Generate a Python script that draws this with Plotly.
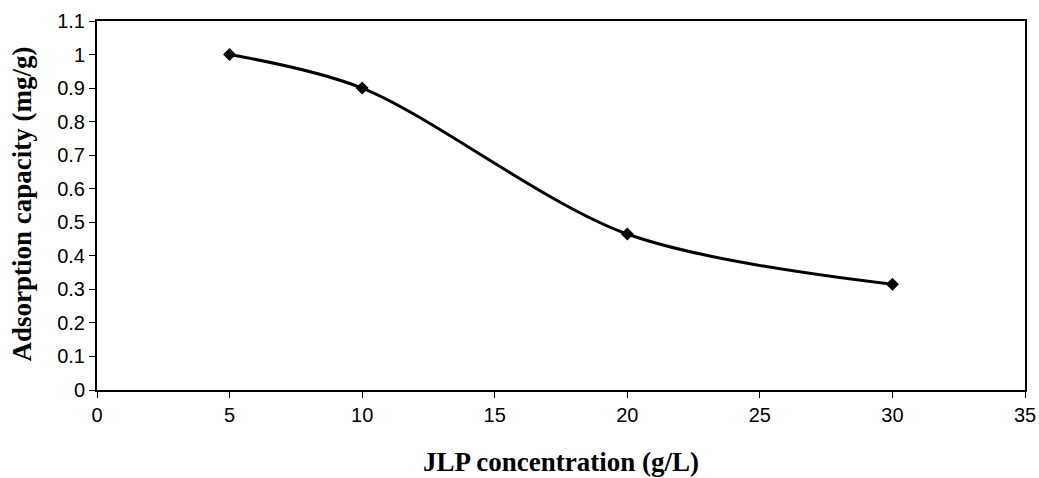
import plotly.graph_objects as go

# JLP concentration (g/L) and adsorption capacity (mg/g)
concentration = [5, 10, 20, 30]
capacity = [1.0, 0.9, 0.465, 0.315]

x_ticks = [0, 5, 10, 15, 20, 25, 30, 35]
y_ticks = [0, 0.1, 0.2, 0.3, 0.4, 0.5, 0.6, 0.7, 0.8, 0.9, 1, 1.1]
y_tick_text = ["0", "0.1", "0.2", "0.3", "0.4", "0.5", "0.6", "0.7", "0.8", "0.9", "1", "1.1"]

fig = go.Figure()
fig.add_trace(go.Scatter(
    x=concentration,
    y=capacity,
    mode="lines+markers",
    line=dict(color="black", width=3, shape="spline", smoothing=0.9),
    marker=dict(symbol="diamond", size=10, color="black"),
    showlegend=False,
))

tick_font = dict(family="Liberation Sans, Arial, sans-serif", size=20, color="black")
serif = "Liberation Serif, Times New Roman, serif"

axis_common = dict(
    ticks="outside",
    ticklen=6,
    tickwidth=1,
    tickcolor="black",
    showgrid=False,
    zeroline=False,
    showline=True,
    linecolor="black",
    linewidth=2,
    mirror=True,
    tickfont=tick_font,
    automargin=False,
)

fig.update_layout(
    width=1039,
    height=478,
    margin=dict(l=97, r=14, t=21, b=88),
    paper_bgcolor="white",
    plot_bgcolor="white",
    xaxis=dict(range=[0, 35], tickvals=x_ticks,
               ticktext=[str(v) for v in x_ticks], **axis_common),
    yaxis=dict(range=[0, 1.1], tickvals=y_ticks, ticktext=y_tick_text, **axis_common),
    annotations=[
        dict(text="<b>JLP concentration (g/L)</b>", xref="paper", yref="paper",
             x=0.5, y=-0.196, xanchor="center", yanchor="middle", showarrow=False,
             font=dict(family=serif, size=27, color="black")),
        dict(text="<b>Adsorption capacity (mg/g)</b>", xref="paper", yref="paper",
             x=-0.081, y=0.505, xanchor="center", yanchor="middle", showarrow=False,
             textangle=-90, font=dict(family=serif, size=27, color="black")),
    ],
)

fig.write_html("out.html")
